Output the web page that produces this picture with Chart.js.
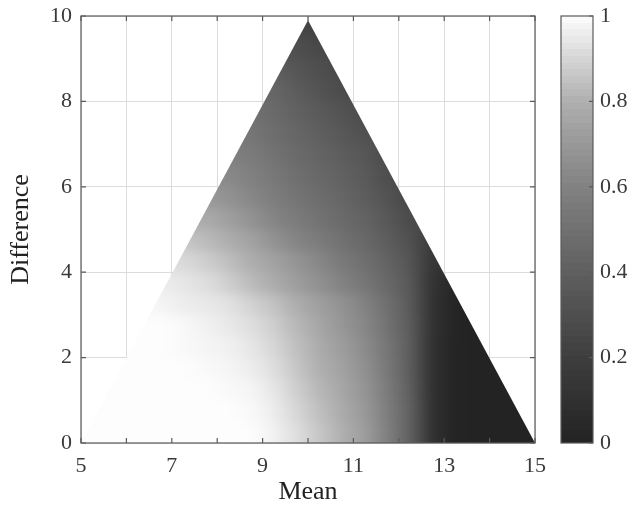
<!DOCTYPE html>
<html>
<head>
<meta charset="utf-8">
<script src="https://cdn.jsdelivr.net/npm/chart.js@4.4.1/dist/chart.umd.min.js"></script>
<style>
  html, body { margin: 0; padding: 0; background: #fff; overflow: hidden; }
  #wrap { position: relative; width: 627px; height: 509px; }
</style>
</head>
<body>
<div id="wrap"><canvas id="heat"></canvas></div>
<script>
// cell edges (bins of 0.5)
const meanEdges = [5, 5.5, 6, 6.5, 7, 7.5, 8, 8.5, 9, 9.5, 10, 10.5, 11, 11.5, 12, 12.5, 13, 13.5, 14, 14.5, 15];
const diffEdges = [0, 0.5, 1, 1.5, 2, 2.5, 3, 3.5, 4, 4.5, 5, 5.5, 6, 6.5, 7, 7.5, 8, 8.5, 9, 9.5, 10];

// outline of the filled region (mean, difference)
const edgeMean = [5, 10, 15];
const edgeDiff = [0, 9.9, 0];

// values per difference band, one entry per mean bin (null = outside)
const d00 = [1, 1, 1, 1, 1, 1, 1, 1, 0.97, 0.92, 0.86, 0.8, 0.72, 0.58, 0.41, 0.09, 0.01, 0, 0, 0];
const d05 = [1, 1, 1, 1, 1, 1, 1, 0.99, 0.96, 0.9, 0.84, 0.78, 0.7, 0.57, 0.41, 0.09, 0.01, 0, 0, 0];
const d10 = [null, 1, 1, 1, 1, 1, 0.99, 0.98, 0.94, 0.88, 0.82, 0.76, 0.68, 0.56, 0.4, 0.09, 0.01, 0, 0, null];
const d15 = [null, 1, 1, 1, 1, 0.99, 0.98, 0.96, 0.92, 0.86, 0.8, 0.74, 0.66, 0.54, 0.39, 0.09, 0.01, 0, 0, null];
const d20 = [null, null, 1, 1, 0.99, 0.98, 0.97, 0.94, 0.9, 0.84, 0.78, 0.72, 0.64, 0.53, 0.39, 0.09, 0.01, 0, null, null];
const d25 = [null, null, 1, 1, 0.99, 0.97, 0.95, 0.92, 0.88, 0.82, 0.76, 0.69, 0.62, 0.51, 0.38, 0.1, 0.01, 0, null, null];
const d30 = [null, null, null, 0.98, 0.96, 0.95, 0.93, 0.89, 0.85, 0.79, 0.73, 0.67, 0.6, 0.49, 0.37, 0.1, 0.01, null, null, null];
const d35 = [null, null, null, 0.96, 0.94, 0.92, 0.88, 0.83, 0.78, 0.72, 0.66, 0.6, 0.53, 0.45, 0.36, 0.11, 0.02, null, null, null];
const d40 = [null, null, null, null, 0.91, 0.88, 0.84, 0.79, 0.74, 0.68, 0.62, 0.55, 0.49, 0.42, 0.34, 0.13, null, null, null, null];
const d45 = [null, null, null, null, 0.86, 0.83, 0.79, 0.74, 0.67, 0.61, 0.56, 0.5, 0.45, 0.39, 0.31, 0.16, null, null, null, null];
const d50 = [null, null, null, null, null, 0.78, 0.73, 0.67, 0.61, 0.56, 0.51, 0.46, 0.42, 0.36, 0.27, null, null, null, null, null];
const d55 = [null, null, null, null, null, 0.7, 0.67, 0.62, 0.57, 0.52, 0.48, 0.44, 0.39, 0.33, 0.25, null, null, null, null, null];
const d60 = [null, null, null, null, null, null, 0.63, 0.59, 0.54, 0.49, 0.45, 0.41, 0.37, 0.29, null, null, null, null, null, null];
const d65 = [null, null, null, null, null, null, 0.59, 0.56, 0.51, 0.46, 0.43, 0.39, 0.35, 0.27, null, null, null, null, null, null];
const d70 = [null, null, null, null, null, null, null, 0.53, 0.48, 0.44, 0.4, 0.36, 0.31, null, null, null, null, null, null, null];
const d75 = [null, null, null, null, null, null, null, 0.5, 0.46, 0.41, 0.37, 0.33, 0.28, null, null, null, null, null, null, null];
const d80 = [null, null, null, null, null, null, null, null, 0.44, 0.38, 0.33, 0.28, null, null, null, null, null, null, null, null];
const d85 = [null, null, null, null, null, null, null, null, 0.4, 0.34, 0.3, 0.26, null, null, null, null, null, null, null, null];
const d90 = [null, null, null, null, null, null, null, null, null, 0.3, 0.26, null, null, null, null, null, null, null, null, null];
const d95 = [null, null, null, null, null, null, null, null, null, 0.25, 0.22, null, null, null, null, null, null, null, null, null];
const rows = [d00, d05, d10, d15, d20, d25, d30, d35, d40, d45, d50, d55, d60, d65, d70, d75, d80, d85, d90, d95];

// tick labels
const meanLabels = [5, 7, 9, 11, 13, 15];
const diffTicks = [0, 2, 4, 6, 8, 10];
const cbarTicks = [0, 0.2, 0.4, 0.6, 0.8, 1];

// colormap (value -> gray level)
const cmapStops = [0, 0.2, 0.4, 0.6, 0.8, 1];
const cmapGray = [35, 62, 95, 130, 175, 253];

function grayOf(v) {
  let i = 0;
  while (i < cmapStops.length - 2 && v > cmapStops[i + 1]) i++;
  const t = (v - cmapStops[i]) / (cmapStops[i + 1] - cmapStops[i]);
  const g = Math.round(cmapGray[i] + t * (cmapGray[i + 1] - cmapGray[i]));
  return `rgb(${g},${g},${g})`;
}

const serif = 'Liberation Serif';
const axisColor = '#5a5a5a';

const heatPlugin = {
  id: 'heat',
  beforeDatasetsDraw(chart) {
    const { ctx, scales: { x, y } } = chart;
    const xl = x.getPixelForValue(meanEdges[0]);
    const xr = x.getPixelForValue(meanEdges[meanEdges.length - 1]);
    const pad = 24;

    // bands on a scratch layer, each shaded across its cell centres
    const layer = document.createElement('canvas');
    layer.width = chart.width;
    layer.height = chart.height;
    const lc = layer.getContext('2d');
    rows.forEach((row, r) => {
      let y0 = Math.round(y.getPixelForValue(diffEdges[r]));
      let y1 = Math.round(y.getPixelForValue(diffEdges[r + 1]));
      if (r === 0) y0 += pad;
      if (r === rows.length - 1) y1 -= pad;
      const grad = lc.createLinearGradient(xl, 0, xr, 0);
      row.forEach((v, c) => {
        if (v === null) return;
        const mid = x.getPixelForValue((meanEdges[c] + meanEdges[c + 1]) / 2);
        grad.addColorStop((mid - xl) / (xr - xl), grayOf(v));
      });
      lc.fillStyle = grad;
      lc.fillRect(xl - pad, y1, xr - xl + 2 * pad, y0 - y1);
    });

    ctx.save();
    ctx.beginPath();
    edgeMean.forEach((m, i) => {
      const px = x.getPixelForValue(m);
      const py = y.getPixelForValue(edgeDiff[i]);
      if (i === 0) ctx.moveTo(px, py); else ctx.lineTo(px, py);
    });
    ctx.closePath();
    ctx.clip();
    ctx.filter = 'blur(6px)';
    ctx.drawImage(layer, 0, 0);
    ctx.restore();
  },
  afterDraw(chart) {
    const { ctx, chartArea: a, scales: { x, y, cbar } } = chart;
    ctx.save();
    ctx.strokeStyle = axisColor;
    ctx.lineWidth = 1.2;
    ctx.strokeRect(a.left, a.top, a.right - a.left, a.bottom - a.top);

    // inward tick marks
    ctx.beginPath();
    for (let m = 5; m <= 15; m++) {
      const px = x.getPixelForValue(m);
      ctx.moveTo(px, a.bottom); ctx.lineTo(px, a.bottom - 5);
      ctx.moveTo(px, a.top); ctx.lineTo(px, a.top + 5);
    }
    diffTicks.forEach(d => {
      const py = y.getPixelForValue(d);
      ctx.moveTo(a.left, py); ctx.lineTo(a.left + 5, py);
      ctx.moveTo(a.right, py); ctx.lineTo(a.right - 5, py);
    });
    ctx.stroke();

    // colorbar
    const cbLeft = 561, cbRight = 593;
    const n = 64;
    for (let k = 0; k < n; k++) {
      const p0 = Math.round(cbar.getPixelForValue(k / n));
      const p1 = Math.round(cbar.getPixelForValue((k + 1) / n));
      ctx.fillStyle = grayOf((k + 0.5) / n);
      ctx.fillRect(cbLeft, p1, cbRight - cbLeft, p0 - p1);
    }
    ctx.strokeRect(cbLeft, cbar.getPixelForValue(1), cbRight - cbLeft, cbar.getPixelForValue(0) - cbar.getPixelForValue(1));
    ctx.beginPath();
    cbarTicks.forEach(v => {
      const py = cbar.getPixelForValue(v);
      ctx.moveTo(cbRight, py); ctx.lineTo(cbRight - 4, py);
    });
    ctx.stroke();
    ctx.restore();
  }
};

new Chart(document.getElementById('heat').getContext('2d'), {
  type: 'scatter',
  data: { datasets: [{ data: [] }] },
  options: {
    responsive: true,
    maintainAspectRatio: false,
    devicePixelRatio: 1,
    animation: false,
    layout: { padding: { top: 16 } },
    plugins: { legend: { display: false }, tooltip: { enabled: false } },
    scales: {
      x: {
        type: 'linear',
        min: 5, max: 15,
        afterFit: s => { s.height = 66; },
        grid: { color: '#dcdcdc', drawTicks: false },
        border: { display: false },
        ticks: {
          stepSize: 1,
          padding: 10,
          maxRotation: 0,
          color: '#3a3a3a',
          font: { family: serif, size: 22 },
          callback: v => meanLabels.includes(v) ? String(v) : ''
        },
        title: { display: true, text: 'Mean', color: '#222', font: { family: serif, size: 26 }, padding: { top: 0, bottom: 1 } }
      },
      y: {
        type: 'linear',
        min: 0, max: 10,
        afterFit: s => { s.width = 81; s.paddingTop = 0; s.paddingBottom = 0; },
        grid: { color: '#dcdcdc', drawTicks: false },
        border: { display: false },
        ticks: {
          stepSize: 2,
          padding: 9,
          color: '#3a3a3a',
          font: { family: serif, size: 22 },
          callback: v => diffTicks.includes(v) ? String(v) : ''
        },
        title: { display: true, text: 'Difference', color: '#222', font: { family: serif, size: 26 }, padding: { top: 6, bottom: 0 } }
      },
      cbar: {
        type: 'linear',
        position: 'right',
        min: 0, max: 1,
        afterFit: s => { s.width = 92; s.paddingTop = 0; s.paddingBottom = 0; },
        afterBuildTicks: s => { s.ticks = cbarTicks.map(v => ({ value: v })); },
        grid: { display: false, drawTicks: false },
        border: { display: false },
        ticks: {
          padding: 65,
          color: '#3a3a3a',
          font: { family: serif, size: 22 },
          callback: v => v === 0 || v === 1 ? String(v) : v.toFixed(1)
        }
      }
    }
  },
  plugins: [heatPlugin]
});
</script>
</body>
</html>
